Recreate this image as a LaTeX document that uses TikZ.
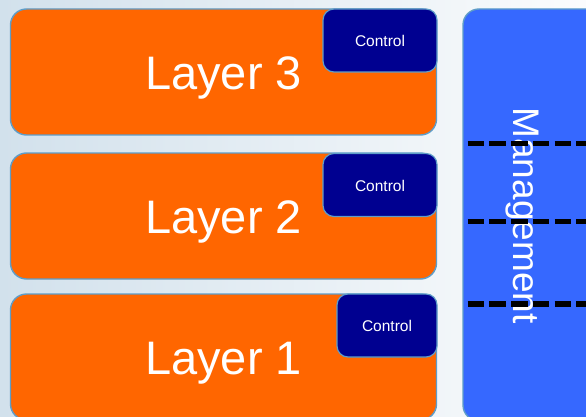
\documentclass[tikz,border=0pt]{standalone}
\usepackage{fontspec}
\setmainfont{Liberation Sans}
\usetikzlibrary{calc}
\definecolor{orng}{HTML}{FF6600}
\definecolor{navy}{HTML}{000090}
\definecolor{mblue}{HTML}{3668FF}
\definecolor{edge}{HTML}{5E9DC8}
\definecolor{bgl}{HTML}{D2E1EC}
\definecolor{bgr}{HTML}{FBFCFD}
\begin{document}
\begin{tikzpicture}[x=1pt,y=-1pt,
  layerbox/.style={draw=edge, line width=1.4pt, fill=orng, rounded corners=16pt,
    inner sep=0pt, minimum width=426pt, minimum height=126pt},
  ctrlbox/.style={draw=edge, line width=1.2pt, fill=navy, rounded corners=11pt,
    inner sep=0pt, minimum height=63pt},
  mgmtbox/.style={draw=edge, line width=1.4pt, fill=mblue, rounded corners=16pt,
    inner sep=0pt, minimum width=157pt, minimum height=412pt},
  laytext/.style={text=white, inner sep=0pt, anchor=base, font=\fontsize{47}{50}\selectfont},
  ctrltext/.style={text=white, inner sep=0pt, anchor=base, font=\fontsize{15.5}{17}\selectfont},
  mgmttext/.style={text=white, inner sep=0pt, anchor=base, rotate=-90, font=\fontsize{37}{40}\selectfont},
  dashline/.style={draw=black, line width=5.5pt, dash pattern=on 16.5pt off 5.2pt}]
\useasboundingbox (0,0) rectangle (586,417);
\clip (0,0) rectangle (586,417);
\shade[left color=bgl, right color=bgr] (0,0) rectangle (586,417);

% layers
\node[layerbox] (L3) at (223.5,72) {};
\node[layerbox] (L2) at (223.5,216) {};
\node[layerbox] (L1) at (223.5,357) {};

% control boxes
\node[ctrlbox, minimum width=114pt] (C3) at (380,40.5) {};
\node[ctrlbox, minimum width=114pt] (C2) at (380,185) {};
\node[ctrlbox, minimum width=100pt] (C1) at (387,325.5) {};

% layer texts
\node[laytext] (T3) at ($(L3.center)+(0,17.3)$) {Layer 3};
\node[laytext] (T2) at ($(L2.center)+(0,17.3)$) {Layer 2};
\node[laytext] (T1) at ($(L1.center)+(0,17.3)$) {Layer 1};

\node[ctrltext] (K3) at ($(C3.center)+(0,6)$) {Control};
\node[ctrltext] (K2) at ($(C2.center)+(0,6)$) {Control};
\node[ctrltext] (K1) at ($(C1.center)+(0,6)$) {Control};

% management
\node[mgmtbox] (M) at (541.5,215) {};
\node[mgmttext] (MT) at (513.5,215.5) {Management};

% dashed lines
\coordinate (d1a) at (467.7,143.3);
\coordinate (d1b) at (600,143.3);
\coordinate (d2a) at (467.7,221.7);
\coordinate (d2b) at (600,221.7);
\coordinate (d3a) at (467.7,304);
\coordinate (d3b) at (600,304);
\draw[dashline] (d1a) -- (d1b);
\draw[dashline] (d2a) -- (d2b);
\draw[dashline] (d3a) -- (d3b);
\end{tikzpicture}
\end{document}
